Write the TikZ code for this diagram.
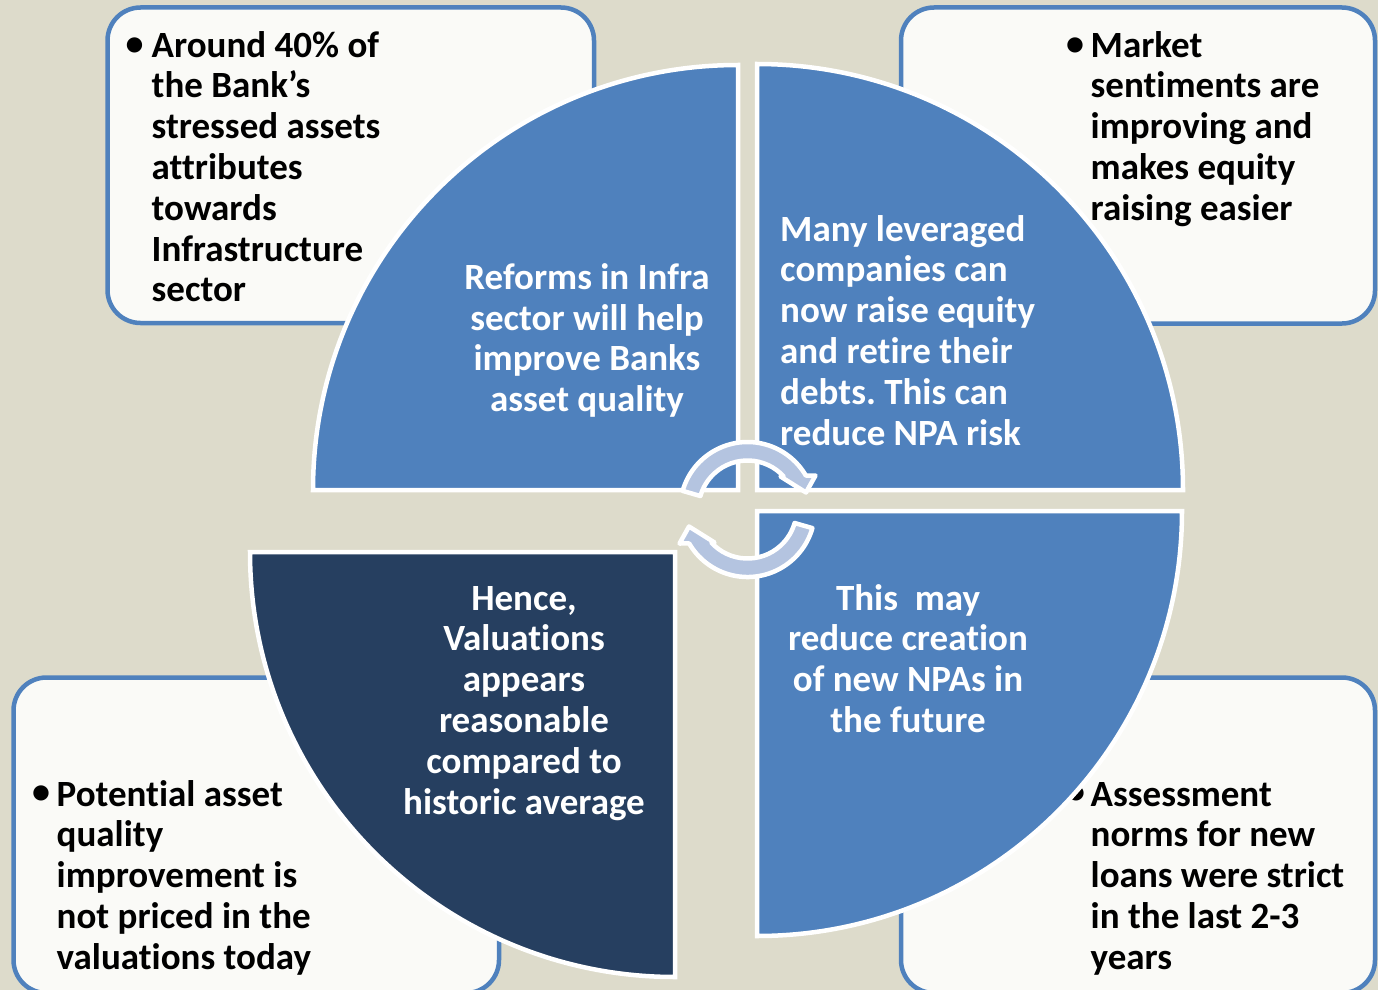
\documentclass[tikz,border=0pt]{standalone}
\usepackage{fontspec}
\setmainfont{Carlito}[Ligatures=NoCommon]
\frenchspacing

\definecolor{pagebg}{RGB}{221,219,203}
\definecolor{cardfill}{RGB}{250,250,247}
\definecolor{cardedge}{RGB}{79,129,189}
\definecolor{petalblue}{RGB}{79,129,189}
\definecolor{petaldark}{RGB}{38,63,96}
\definecolor{cyclefill}{RGB}{180,196,224}

\tikzset{
  card/.style={draw=cardedge, line width=4.5pt, fill=cardfill, rounded corners=33pt},
  petal/.style={draw=white, line width=4.5pt, fill=#1},
  cyclearrow/.style={draw=white, line width=4.5pt, fill=cyclefill, line join=round},
  bodytext/.style={inner sep=0pt, font=\fontsize{37}{40.8}\selectfont\bfseries},
  cardtext/.style={bodytext, text=black, anchor=base west},
  petaltext/.style={bodytext, text=white},
  dot/.style={inner sep=0pt, text=black, font=\fontsize{36}{36}\selectfont\bfseries}
}

\begin{document}
\begin{tikzpicture}[x=1pt, y=1pt]
  % page and background
  \clip (0,0) rectangle (1378,-990);
  \fill[pagebg] (0,0) rectangle (1378,-990);

  % outer cards
  \draw[card] (107.5,-7.5) rectangle (594,-323);
  \draw[card] (901,-7.5) rectangle (1375,-323.5);
  \draw[card] (13.5,-677.5) rectangle (499,-993);
  \draw[card] (901,-677.5) rectangle (1375,-993);

  % card texts
  \node[dot] (d1) at (134.5,-46.7) {•};
  \node[cardtext] (c1) at (151.5,-57) {\parbox[t]{300pt}{\raggedright
    Around 40\% of\\the Bank’s\\stressed assets\\attributes\\towards\\Infrastructure\\sector}};

  \node[dot] (d2) at (1075,-46.7) {•};
  \node[cardtext] (c2) at (1090.5,-57) {\parbox[t]{280pt}{\raggedright
    Market\\sentiments are\\improving and\\makes equity\\raising easier}};

  \node[dot] (d3) at (41,-795) {•};
  \node[cardtext] (c3) at (56.5,-806) {\parbox[t]{300pt}{\raggedright
    Potential asset\\quality\\improvement is\\not priced in the\\valuations today}};

  \node[dot] (d4) at (1076,-795) {•};
  \node[cardtext] (c4) at (1090.5,-806) {\parbox[t]{280pt}{\raggedright
    Assessment\\norms for new\\loans were strict\\in the last 2-3\\years}};

  % quarter-circle petals
  \draw[petal=petalblue] (738,-490) -- (313,-490)
    arc[start angle=180, end angle=90, radius=425pt] -- cycle;
  \draw[petal=petalblue] (757,-490) -- (757,-64)
    arc[start angle=90, end angle=0, radius=426pt] -- cycle;
  \draw[petal=petalblue] (757,-511) -- (1182,-511)
    arc[start angle=0, end angle=-90, radius=425pt] -- cycle;
  \draw[petal=petaldark] (675,-552) -- (675,-977)
    arc[start angle=-90, end angle=-180, radius=425pt] -- cycle;

  % petal texts
  \node[petaltext, anchor=base] (p1) at (587,-289.3) {\parbox[t]{300pt}{\centering
    Reforms in Infra\\sector will help\\improve Banks\\asset quality}};
  \node[petaltext, anchor=base west] (p2) at (780,-241) {\parbox[t]{320pt}{\raggedright
    Many leveraged\\companies can\\now raise equity\\and retire their\\debts. This can\\reduce NPA risk}};
  \node[petaltext, anchor=base] (p3) at (908,-610) {\parbox[t]{300pt}{\centering
    This\ \ may\\reduce creation\\of new NPAs in\\the future}};
  \node[petaltext, anchor=base] (p4) at (524,-610) {\parbox[t]{320pt}{\centering
    Hence,\\Valuations\\appears\\reasonable\\compared to\\historic average}};

  % circular arrows in the middle
  \begin{scope}[shift={(747.5,-509.5)}]
    \draw[cyclearrow] (164:67.5)
      arc[start angle=164, end angle=30.2, radius=67.5pt]
      -- (68,34) -- (58.5,17) -- (33,33) -- (42.4:49)
      arc[start angle=42.4, end angle=164, radius=49pt] -- cycle;
    \draw[cyclearrow] (344:67.5)
      arc[start angle=344, end angle=210.2, radius=67.5pt]
      -- (-68,-34) -- (-58.5,-17) -- (-33,-33) -- (222.4:49)
      arc[start angle=222.4, end angle=344, radius=49pt] -- cycle;
  \end{scope}
\end{tikzpicture}
\end{document}
